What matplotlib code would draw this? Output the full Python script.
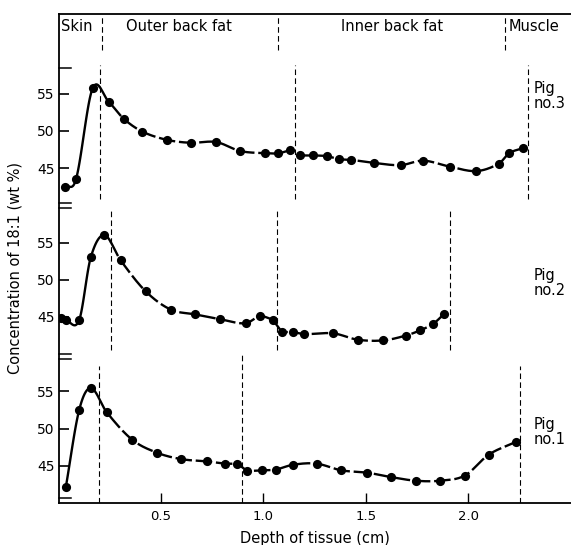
import numpy as np
import matplotlib
matplotlib.use("Agg")
import matplotlib.pyplot as plt
from matplotlib.transforms import blended_transform_factory

# ---------------- data (depth in cm, 18:1 concentration in wt %) ----------------
pig1_depth = [0.035, 0.10, 0.157, 0.235, 0.36, 0.482, 0.60, 0.723, 0.814, 0.873,
              0.921, 0.995, 1.06, 1.145, 1.26, 1.379, 1.504, 1.621, 1.745, 1.862,
              1.984, 2.10, 2.232]
pig1_conc = [42.1, 52.45, 55.45, 52.2, 48.5, 46.75, 45.9, 45.6, 45.3, 45.3,
             44.3, 44.4, 44.5, 45.15, 45.3, 44.4, 44.1, 43.5, 43.0, 43.0,
             43.7, 46.5, 48.2]

pig2_depth = [0.01, 0.035, 0.10, 0.157, 0.223, 0.303, 0.425, 0.547, 0.666, 0.788,
              0.913, 0.983, 1.045, 1.09, 1.146, 1.20, 1.341, 1.46, 1.585, 1.695,
              1.765, 1.83, 1.882]
pig2_conc = [44.9, 44.6, 44.55, 53.0, 56.0, 52.6, 48.45, 46.0, 45.35, 44.7,
             44.15, 45.1, 44.65, 43.0, 42.95, 42.7, 42.8, 41.95, 41.85, 42.5,
             43.2, 44.1, 45.4]

pig3_depth = [0.032, 0.085, 0.166, 0.245, 0.319, 0.409, 0.528, 0.645, 0.769, 0.886,
              1.006, 1.073, 1.13, 1.18, 1.24, 1.31, 1.37, 1.43, 1.54, 1.67,
              1.78, 1.91, 2.04, 2.15, 2.20, 2.27]
pig3_conc = [42.5, 43.5, 55.7, 53.9, 51.6, 49.9, 48.8, 48.4, 48.5, 47.3,
             47.0, 47.0, 47.4, 46.7, 46.7, 46.6, 46.2, 46.1, 45.7, 45.4,
             46.0, 45.2, 44.6, 45.6, 47.0, 47.7]

# tissue boundaries (cm): skin | outer fat | inner fat | muscle
pig1_bounds = [0.199, 0.897, 2.253]
pig2_bounds = [0.254, 1.065, 1.911]
pig3_bounds = [0.202, 1.155, 2.29]
header_bounds = [0.21, 1.07, 2.18]

region_names = ["Skin", "Outer back fat", "Inner back fat", "Muscle"]
pig_labels = ["Pig\nno.1", "Pig\nno.2", "Pig\nno.3"]
ytick_values = [45, 50, 55]
xtick_values = [0.5, 1.0, 1.5, 2.0]
xtick_labels = ["0.5", "1.0", "1.5", "2.0"]

# ---------------- layout / style ----------------
offsets = [0, 20, 40]          # vertical stacking of the three panels
dash_spans = [[(40, 58.4), (40, 60.0), (40, 58.4)],
              [(60.6, 79.4)] * 3,
              [(80.8, 98.9)] * 3]
header_span = (100.8, 105.6)
label_y = [49.5, 49.6, 54.7]

plt.rcParams['font.family'] = ['DejaVu Sans']
W, H = 571, 545
fig = plt.figure(figsize=(W / 100, H / 100), dpi=100)
left_px, right_px, bottom_px, top_px = 58.6, 571, 502.7, 14
ax = fig.add_axes([left_px / W, 1 - bottom_px / H,
                   (right_px - left_px) / W, (bottom_px - top_px) / H])
ax.set_xlim(0, 2.502)
ax.set_ylim(40.05, 105.7)
ax.spines['right'].set_visible(False)
for s in ['left', 'top', 'bottom']:
    ax.spines[s].set_linewidth(1.3)


def hermite_curve(x, y, n=24):
    x = np.asarray(x, float)
    y = np.asarray(y, float)
    if len(x) < 2:
        return x, y
    m = np.empty_like(y)
    m[1:-1] = (y[2:] - y[:-2]) / (x[2:] - x[:-2])
    m[0] = (y[1] - y[0]) / (x[1] - x[0])
    m[-1] = (y[-1] - y[-2]) / (x[-1] - x[-2])
    xs, ys = [], []
    for i in range(len(x) - 1):
        h = x[i + 1] - x[i]
        t = np.linspace(0, 1, n, endpoint=(i == len(x) - 2))
        h00 = 2 * t**3 - 3 * t**2 + 1
        h10 = t**3 - 2 * t**2 + t
        h01 = -2 * t**3 + 3 * t**2
        h11 = t**3 - t**2
        xs.append(x[i] + t * h)
        ys.append(h00 * y[i] + h10 * h * m[i] + h01 * y[i + 1] + h11 * h * m[i + 1])
    return np.concatenate(xs), np.concatenate(ys)


pigs = [(pig1_depth, pig1_conc, pig1_bounds),
        (pig2_depth, pig2_conc, pig2_bounds),
        (pig3_depth, pig3_conc, pig3_bounds)]

for k, (d, c, b) in enumerate(pigs):
    d = np.asarray(d)
    c = np.asarray(c) + offsets[k]
    # smooth within the outer fat / inner fat groups, straight join between
    g1 = d < b[1]
    x1, y1 = hermite_curve(d[g1], c[g1])
    x2, y2 = hermite_curve(d[~g1], c[~g1])
    cx = np.concatenate([x1, x2])
    cy = np.concatenate([y1, y2])
    skin = cx <= b[0]
    ax.plot(cx[skin], cy[skin], color='black', lw=1.7, solid_capstyle='round')
    rest = cx >= cx[skin][-1]
    ax.plot(cx[rest], cy[rest], color='black', lw=1.7, linestyle=(0, (7, 1.6)))
    ax.plot(d, c, 'o', color='black', markersize=6.6, markeredgewidth=0, zorder=3)
    # tissue boundary dashes
    for xb, (y0, y1_) in zip(b, dash_spans[k]):
        ax.plot([xb, xb], [y0, y1_], color='black', lw=0.8, linestyle=(0, (5, 3)))
    ax.text(2.318, label_y[k] + offsets[k], pig_labels[k], fontsize=10.5,
            ha='left', va='center', linespacing=1.0)

# header
for xb in header_bounds:
    ax.plot([xb, xb], header_span, color='black', lw=0.8, linestyle=(0, (5, 3)))
hx = [0.09, 0.59, 1.63, 2.195]
has = ['center', 'center', 'center', 'left']
for name, x, ha in zip(region_names, hx, has):
    ax.text(x, 104.0, name, fontsize=10.5, ha=ha, va='center')

# y ticks
yt = [v + o for o in offsets for v in ytick_values]
ax.set_yticks(yt)
ax.set_yticklabels([str(v) for o in offsets for v in ytick_values], fontsize=10)
ax.tick_params(axis='y', direction='in', length=7, width=1.2, pad=3)
ax.set_xticks(xtick_values)
ax.set_xticklabels(xtick_labels, fontsize=9.5)
ax.tick_params(axis='x', direction='in', length=7, width=1.0, pad=5)

# axis break marks and extra unlabelled ticks on the left spine
trans = blended_transform_factory(ax.transAxes, ax.transData)
for yb in [79.7, 80.3, 59.4, 60.0]:
    ax.plot([0, 0.025], [yb, yb], color='black', lw=1.1, transform=trans, clip_on=False)
for yb in [98.5, 40.7]:
    ax.plot([0, 0.025], [yb, yb], color='black', lw=1.1, transform=trans, clip_on=False)

ax.set_xlabel("Depth of tissue (cm)", fontsize=10.5, labelpad=6)
fig.text(15 / W, 1 - 268 / H, "Concentration of 18:1 (wt %)", rotation=90,
         fontsize=10.5, ha='center', va='center')

fig.savefig("out.png", dpi=100)
